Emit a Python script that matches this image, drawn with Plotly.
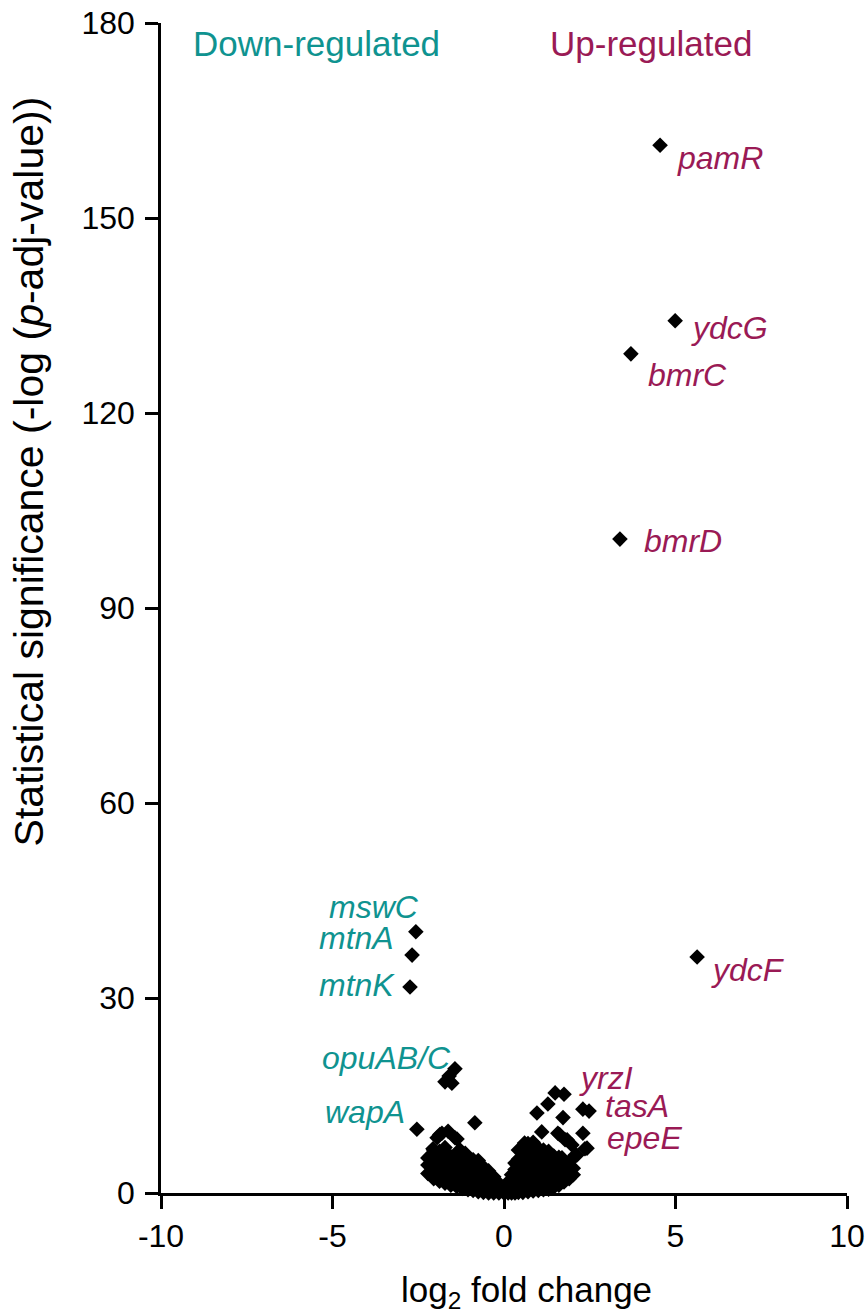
import plotly.graph_objects as go

# ---------------- data ----------------
# labelled genes
gene_names = ["pamR", "ydcG", "bmrC", "bmrD", "ydcF", "mswC", "mtnA", "mtnK", "wapA"]
gene_lfc = [4.55, 4.99, 3.70, 3.38, 5.63, -2.57, -2.68, -2.74, -2.54]
gene_sig = [161.2, 134.2, 129.1, 100.6, 36.3, 40.2, 36.6, 31.7, 9.8]

# other moderately significant genes (scattered above the cloud)
mid_lfc = [-1.43, -1.60, -1.72, -1.52, -0.85, -1.81, -1.63, -1.95, -1.43, -1.28, -1.13,
           -2.07, -2.16, -1.37, -1.87,
           1.49, 1.75, 1.28, 0.96, 1.72, 2.30, 2.48, 1.10, 1.57, 2.30, 1.78, 1.98,
           2.36, 2.12, 1.69, 0.60, 1.84, 2.42, 2.07, 1.62]
mid_sig = [19.1, 18.0, 17.1, 16.9, 10.8, 9.2, 9.5, 8.5, 8.5, 6.6, 6.1,
           6.8, 5.6, 8.3, 9.0,
           15.4, 15.2, 13.7, 12.3, 11.6, 12.9, 12.6, 9.4, 9.2, 9.2, 8.2, 7.4,
           6.8, 5.8, 5.4, 7.7, 8.2, 6.9, 5.8, 9.0]

# dense cloud of non-significant genes
cloud_lfc = [
    -2.22, -2.22, -2.22,
    -2.05, -2.05, -2.05, -2.05, -2.05,
    -1.88, -1.88, -1.88, -1.88, -1.88,
    -1.72, -1.72, -1.72, -1.72, -1.72, -1.72,
    -1.55, -1.55, -1.55, -1.55, -1.55,
    -1.38, -1.38, -1.38, -1.38, -1.38, -1.38,
    -1.22, -1.22, -1.22, -1.22, -1.22,
    -1.05, -1.05, -1.05, -1.05, -1.05, -1.05,
    -0.90, -0.90, -0.90, -0.90, -0.90, -0.90,
    -0.75, -0.75, -0.75, -0.75, -0.75, -0.75,
    -0.60, -0.60, -0.60, -0.60, -0.60,
    -0.45, -0.45, -0.45, -0.45, -0.45,
    -0.30, -0.30, -0.30, -0.30,
    -0.15, -0.15, -0.15,
    0.00, 0.00,
    0.12, 0.12, 0.12,
    0.22, 0.22, 0.22, 0.22,
    0.32, 0.32, 0.32, 0.32, 0.32,
    0.42, 0.42, 0.42, 0.42, 0.42, 0.42,
    0.55, 0.55, 0.55, 0.55, 0.55, 0.55,
    0.70, 0.70, 0.70, 0.70, 0.70, 0.70, 0.70,
    0.85, 0.85, 0.85, 0.85, 0.85, 0.85, 0.85,
    1.00, 1.00, 1.00, 1.00, 1.00, 1.00,
    1.15, 1.15, 1.15, 1.15, 1.15, 1.15,
    1.30, 1.30, 1.30, 1.30, 1.30, 1.30,
    1.45, 1.45, 1.45, 1.45, 1.45,
    1.60, 1.60, 1.60, 1.60, 1.60,
    1.75, 1.75, 1.75, 1.75,
    1.90, 1.90, 1.90, 1.90,
    2.02, 2.02,
]
cloud_sig = [
    3.0, 4.3, 5.4,
    2.2, 3.4, 4.6, 5.8, 6.6,
    1.8, 3.0, 4.1, 5.3, 6.4,
    1.5, 2.6, 3.8, 5.0, 6.2, 7.0,
    1.2, 2.3, 3.5, 4.7, 5.6,
    1.0, 2.1, 3.2, 4.4, 5.5, 6.2,
    0.7, 1.8, 2.9, 4.0, 5.2,
    0.5, 1.5, 2.6, 3.7, 4.8, 5.3,
    0.4, 1.4, 2.4, 3.5, 4.6, 5.1,
    0.2, 1.2, 2.2, 3.3, 4.4, 5.0,
    0.1, 1.0, 2.0, 3.0, 4.0,
    0.0, 0.9, 1.8, 2.8, 3.4,
    0.0, 0.8, 1.6, 2.5,
    0.0, 0.7, 1.5,
    0.0, 0.6,
    0.0, 0.8, 1.7,
    0.0, 1.0, 2.0, 2.8,
    0.0, 1.2, 2.4, 3.6, 4.6,
    0.1, 1.3, 2.6, 3.9, 5.2, 6.6,
    0.1, 1.4, 2.7, 4.0, 5.3, 6.8,
    0.2, 1.5, 2.8, 4.1, 5.4, 6.7, 7.6,
    0.3, 1.6, 2.9, 4.2, 5.5, 6.8, 7.8,
    0.4, 1.7, 3.0, 4.3, 5.6, 6.9,
    0.5, 1.8, 3.1, 4.4, 5.7, 6.6,
    0.6, 1.9, 3.2, 4.5, 5.8, 6.4,
    0.9, 2.1, 3.3, 4.6, 5.7,
    1.2, 2.4, 3.6, 4.8, 5.5,
    1.7, 2.8, 3.9, 5.0,
    2.2, 3.2, 4.3, 4.8,
    2.8, 3.8,
]

# text labels
label_text = ["pamR", "ydcG", "bmrC", "bmrD", "ydcF", "yrzI", "tasA", "epeE",
              "mswC", "mtnA", "mtnK", "opuAB/C", "wapA"]
label_x = [6.30, 6.56, 5.34, 5.22, 7.11, 2.97, 3.88, 4.11,
           -3.79, -4.31, -4.29, -3.44, -4.05]
label_y = [159.2, 133.1, 125.8, 100.3, 34.3, 17.7, 13.4, 8.5,
           44.0, 39.2, 32.0, 20.8, 12.5]
label_group = ["up"] * 8 + ["down"] * 5

header_text = ["Down-regulated", "Up-regulated"]
header_x = [-5.48, 4.29]
header_y = [176.8, 176.8]
header_group = ["down", "up"]

x_ticks = [-10, -5, 0, 5, 10]
y_ticks = [0, 30, 60, 90, 120, 150, 180]
x_title = "log<sub>2</sub> fold change"
y_title = "Statistical significance (-log (<i>p</i>-adj-value))"

# ---------------- styling ----------------
TEAL = "#0f9390"
MAROON = "#9a1a55"
FONT = "Liberation Sans, Arial, sans-serif"
colors = {"up": MAROON, "down": TEAL}

all_x = cloud_lfc + mid_lfc + gene_lfc
all_y = cloud_sig + mid_sig + gene_sig

fig = go.Figure()
fig.add_trace(go.Scatter(
    x=all_x, y=all_y, mode="markers",
    marker=dict(symbol="diamond", size=12, color="black", line=dict(width=0)),
    cliponaxis=False, showlegend=False, hoverinfo="skip",
))

annotations = []
for t, x, y, g in zip(label_text, label_x, label_y, label_group):
    annotations.append(dict(
        x=x, y=y, xref="x", yref="y", text=f"<i>{t}</i>", showarrow=False,
        xanchor="center", yanchor="middle",
        font=dict(family=FONT, size=32, color=colors[g]),
    ))
for t, x, y, g in zip(header_text, header_x, header_y, header_group):
    annotations.append(dict(
        x=x, y=y, xref="x", yref="y", text=t, showarrow=False,
        xanchor="center", yanchor="middle",
        font=dict(family=FONT, size=35, color=colors[g]),
    ))
# axis titles placed as annotations (paper coordinates)
annotations.append(dict(
    x=0.5335, y=-0.085, xref="paper", yref="paper", text=x_title, showarrow=False,
    xanchor="center", yanchor="middle",
    font=dict(family=FONT, size=35, color="black"),
))
annotations.append(dict(
    x=-0.192, y=0.617, xref="paper", yref="paper", text=y_title, showarrow=False,
    xanchor="center", yanchor="middle", textangle=-90,
    font=dict(family=FONT, size=41, color="black"),
))

axis_common = dict(
    showline=True, linewidth=2.5, linecolor="black",
    ticks="outside", ticklen=13, tickwidth=2.5, tickcolor="black",
    showgrid=False, zeroline=False, automargin=False,
    tickfont=dict(family=FONT, size=32, color="black"),
)

fig.update_layout(
    width=865, height=1315,
    paper_bgcolor="white", plot_bgcolor="white",
    margin=dict(l=161, r=18, t=23, b=122),
    annotations=annotations,
    xaxis=dict(range=[-10, 10], tickvals=x_ticks, ticktext=[str(v) for v in x_ticks],
               **axis_common),
    yaxis=dict(range=[0, 180], tickvals=y_ticks, ticktext=[str(v) for v in y_ticks],
               ticklabelstandoff=4, **axis_common),
)

fig.write_html(
    "out.html",
    config={"displayModeBar": False},
    post_script="document.body.style.margin='0';document.body.style.overflow='hidden';",
)
